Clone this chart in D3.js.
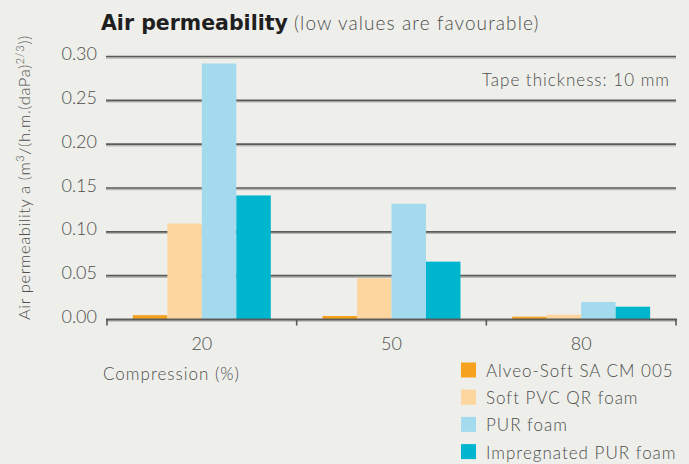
<!DOCTYPE html>
<html>
<head>
<meta charset="utf-8">
<script src="https://cdn.jsdelivr.net/npm/d3@7"></script>
<style>
  html, body { margin: 0; padding: 0; background: #eeefea; }
  svg { display: block; font-family: Lato, "Open Sans", sans-serif; }
  .tick-label { font-size: 18px; font-weight: 300; fill: #4d4d4d; }
  .legend-label { font-size: 17px; font-weight: 300; fill: #4d4d4d; letter-spacing: 1px; }
</style>
</head>
<body>
<svg id="chart" width="689" height="464"></svg>
<script>
(function() {
  'use strict';

  // Data
  const categories = ['20', '50', '80'];
  const seriesNames = ['Alveo-Soft SA CM 005', 'Soft PVC QR foam', 'PUR foam', 'Impregnated PUR foam'];
  const seriesColors = ['#f6a21e', '#fdd59f', '#a3daee', '#00b6cf'];
  const alveoSoft = [0.005, 0.004, 0.0032];
  const softPvc = [0.1095, 0.047, 0.0055];
  const purFoam = [0.292, 0.132, 0.020];
  const impregnatedPur = [0.1415, 0.066, 0.0146];
  const yTicks = [0, 0.05, 0.10, 0.15, 0.20, 0.25, 0.30];

  const seriesValues = [alveoSoft, softPvc, purFoam, impregnatedPur];

  const svg = d3.select('#chart');
  const left = 107, right = 676, top = 56.5, bottom = 319.5;

  const x = d3.scaleBand().domain(categories).range([left, right]);
  const xInner = d3.scaleBand().domain(d3.range(seriesNames.length))
    .range([0, x.bandwidth()]).paddingOuter(0.75);
  const y = d3.scaleLinear().domain([0, 0.30]).range([bottom, top]);

  // Gridlines (with a light shadow underneath)
  const grid = svg.append('g');
  yTicks.filter(t => t > 0).forEach(t => {
    grid.append('line')
      .attr('x1', left - 1).attr('x2', right)
      .attr('y1', y(t) + 1.5).attr('y2', y(t) + 1.5)
      .attr('stroke', '#b9bab5').attr('stroke-width', 1.5);
    grid.append('line')
      .attr('x1', left - 1).attr('x2', right)
      .attr('y1', y(t)).attr('y2', y(t))
      .attr('stroke', '#5a5a58').attr('stroke-width', 1.6);
  });

  // Y tick labels
  svg.append('g').selectAll('text')
    .data(yTicks)
    .join('text')
    .attr('class', 'tick-label')
    .attr('x', 97)
    .attr('y', d => y(d) + 3.5)
    .attr('text-anchor', 'end')
    .text(d => d.toFixed(2));

  // Bars
  categories.forEach((cat, ci) => {
    seriesValues.forEach((vals, si) => {
      svg.append('rect')
        .attr('x', x(cat) + xInner(si))
        .attr('y', y(vals[ci]))
        .attr('width', xInner.bandwidth())
        .attr('height', bottom - y(vals[ci]))
        .attr('fill', seriesColors[si]);
    });
  });

  // X axis
  const xAxis = svg.append('g');
  xAxis.append('line')
    .attr('x1', left - 1).attr('x2', right + 1)
    .attr('y1', bottom + 1.5).attr('y2', bottom + 1.5)
    .attr('stroke', '#b9bab5').attr('stroke-width', 1.5);
  xAxis.append('line')
    .attr('x1', left - 1).attr('x2', right + 1)
    .attr('y1', bottom).attr('y2', bottom)
    .attr('stroke', '#5a5a58').attr('stroke-width', 1.8);
  const tickXs = categories.map(c => x(c)).concat([x(categories[categories.length - 1]) + x.bandwidth()]);
  tickXs.forEach(tx => {
    xAxis.append('line')
      .attr('x1', tx).attr('x2', tx)
      .attr('y1', bottom).attr('y2', bottom + 6)
      .attr('stroke', '#5a5a58').attr('stroke-width', 1.6);
  });
  xAxis.selectAll('text.cat')
    .data(categories)
    .join('text')
    .attr('class', 'tick-label')
    .attr('x', d => x(d) + x.bandwidth() / 2)
    .attr('y', 350)
    .attr('text-anchor', 'middle')
    .text(d => d);

  svg.append('text')
    .attr('class', 'legend-label')
    .attr('x', 103).attr('y', 380)
    .text('Compression (%)');

  // Title
  const title = svg.append('text').attr('x', 101).attr('y', 30);
  title.append('tspan')
    .attr('font-family', '"DejaVu Sans", sans-serif')
    .attr('font-size', 20.5).attr('font-weight', 700).attr('fill', '#1f1f1f')
    .text('Air permeability');
  title.append('tspan')
    .attr('font-size', 19).attr('font-weight', 300).attr('fill', '#4d4d4d')
    .attr('letter-spacing', 1.1)
    .text(' (low values are favourable)');

  // Y axis title
  const yTitle = svg.append('text')
    .attr('transform', 'translate(30,' + 320 + ') rotate(-90)')
    .attr('font-size', 16.5).attr('font-weight', 300).attr('fill', '#4d4d4d')
    .attr('letter-spacing', 0.6);
  yTitle.append('tspan').text('Air permeability a (m');
  yTitle.append('tspan').attr('font-size', 11).attr('dy', -6).text('3');
  yTitle.append('tspan').attr('dy', 6).text('/(h.m.(daPa)');
  yTitle.append('tspan').attr('font-size', 11).attr('dy', -6).text('2/3');
  yTitle.append('tspan').attr('dy', 6).text('))');

  // Annotation
  svg.append('text')
    .attr('class', 'legend-label')
    .attr('x', 670).attr('y', 86)
    .attr('text-anchor', 'end')
    .attr('letter-spacing', 0.7)
    .text('Tape thickness: 10 mm');

  // Legend
  const legend = svg.append('g');
  seriesNames.forEach((name, i) => {
    const ly = 370 + i * 27.2;
    legend.append('rect')
      .attr('x', 461).attr('y', ly - 7.5)
      .attr('width', 15).attr('height', 15)
      .attr('fill', seriesColors[i]);
    legend.append('text')
      .attr('class', 'legend-label')
      .attr('x', 486).attr('y', ly + 7)
      .text(name);
  });
})();
</script>
</body>
</html>
